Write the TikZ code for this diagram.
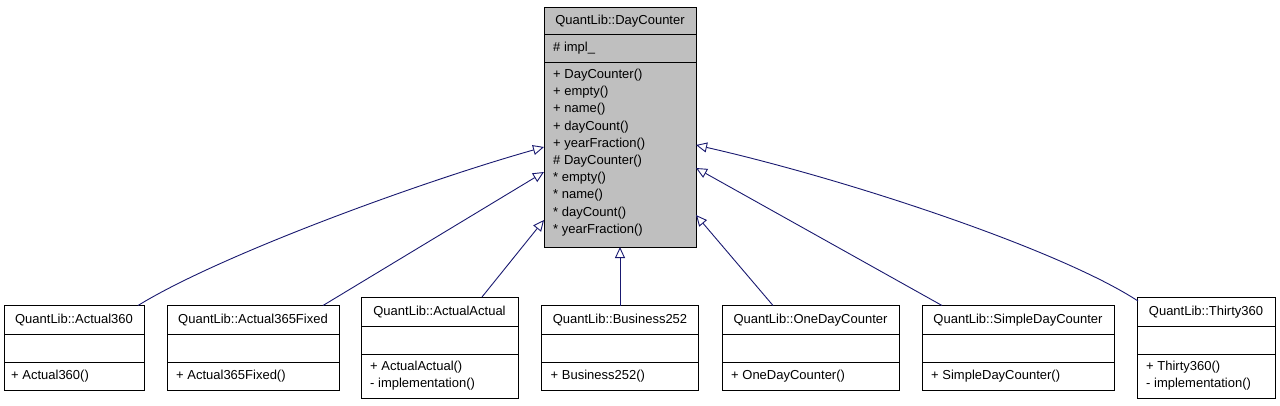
\documentclass[tikz,border=0pt]{standalone}
\usepackage{fontspec}
\setmainfont{Liberation Sans}
\usetikzlibrary{arrows.meta}
\definecolor{navy}{HTML}{191970}
\definecolor{boxgray}{HTML}{BFBFBF}
\tikzset{
  cls/.style={draw=black, line width=1pt, inner sep=0pt, outer sep=0pt, anchor=north west},
  sep/.style={draw=black, line width=1pt},
  ttl/.style={inner sep=0pt, font=\fontsize{13}{15}\selectfont, text height=9.5pt, text depth=2.5pt},
  mth/.style={ttl, anchor=west},
  inh/.style={draw=navy, line width=0.9pt, -{Triangle[length=11pt,width=10pt,fill=white]}}
}
\begin{document}
\begin{tikzpicture}[x=1pt,y=-1pt]
\useasboundingbox (0,0) rectangle (1280,405);
% main class
\node[cls, fill=boxgray, minimum width=152pt, minimum height=240pt] (main) at (544,7) {};
\draw[sep] (main.west |- 0,34) -- (main.east |- 0,34);
\draw[sep] (main.west |- 0,62) -- (main.east |- 0,62);
\node[ttl] (mainT) at (620,20.5) {QuantLib::DayCounter};
\node[mth] (mainA) at (553,48) {\# impl\_};
\node[mth] (m1) at (553,75) {+ DayCounter()};
\node[mth] (m2) at (553,92.2) {+ empty()};
\node[mth] (m3) at (553,109.4) {+ name()};
\node[mth] (m4) at (553,126.6) {+ dayCount()};
\node[mth] (m5) at (553,143.8) {+ yearFraction()};
\node[mth] (m6) at (553,161) {\# DayCounter()};
\node[mth] (m7) at (553,178.2) {* empty()};
\node[mth] (m8) at (553,195.4) {* name()};
\node[mth] (m9) at (553,212.6) {* dayCount()};
\node[mth] (m10) at (553,229.8) {* yearFraction()};

% Actual360
\node[cls, fill=white, minimum width=140pt, minimum height=84.5pt] (a360) at (4,305.5) {};
\draw[sep] (a360.west |- 0,334) -- (a360.east |- 0,334);
\draw[sep] (a360.west |- 0,362) -- (a360.east |- 0,362);
\node[ttl] (a360T) at (74,319.5) {QuantLib::Actual360};
\node[mth] (a360M) at (11,376) {+ Actual360()};

% Actual365Fixed
\node[cls, fill=white, minimum width=172pt, minimum height=84.5pt] (a365) at (167,305.5) {};
\draw[sep] (a365.west |- 0,334) -- (a365.east |- 0,334);
\draw[sep] (a365.west |- 0,362) -- (a365.east |- 0,362);
\node[ttl] (a365T) at (253,319.5) {QuantLib::Actual365Fixed};
\node[mth] (a365M) at (176,376) {+ Actual365Fixed()};

% ActualActual
\node[cls, fill=white, minimum width=157pt, minimum height=101pt] (aa) at (361,297) {};
\draw[sep] (aa.west |- 0,326) -- (aa.east |- 0,326);
\draw[sep] (aa.west |- 0,354) -- (aa.east |- 0,354);
\node[ttl] (aaT) at (439.5,311.5) {QuantLib::ActualActual};
\node[mth] (aaM1) at (370,366.5) {+ ActualActual()};
\node[mth] (aaM2) at (370,384) {- implementation()};

% Business252
\node[cls, fill=white, minimum width=157pt, minimum height=84.5pt] (b252) at (541.5,305.5) {};
\draw[sep] (b252.west |- 0,334) -- (b252.east |- 0,334);
\draw[sep] (b252.west |- 0,362) -- (b252.east |- 0,362);
\node[ttl] (b252T) at (620,319.5) {QuantLib::Business252};
\node[mth] (b252M) at (550.5,376) {+ Business252()};

% OneDayCounter
\node[cls, fill=white, minimum width=177pt, minimum height=84.5pt] (odc) at (722,305.5) {};
\draw[sep] (odc.west |- 0,334) -- (odc.east |- 0,334);
\draw[sep] (odc.west |- 0,362) -- (odc.east |- 0,362);
\node[ttl] (odcT) at (810.5,319.5) {QuantLib::OneDayCounter};
\node[mth] (odcM) at (731,376) {+ OneDayCounter()};

% SimpleDayCounter
\node[cls, fill=white, minimum width=192pt, minimum height=84.5pt] (sdc) at (922,305.5) {};
\draw[sep] (sdc.west |- 0,334) -- (sdc.east |- 0,334);
\draw[sep] (sdc.west |- 0,362) -- (sdc.east |- 0,362);
\node[ttl] (sdcT) at (1018,319.5) {QuantLib::SimpleDayCounter};
\node[mth] (sdcM) at (931,376) {+ SimpleDayCounter()};

% Thirty360
\node[cls, fill=white, minimum width=138pt, minimum height=101pt] (t360) at (1137,297) {};
\draw[sep] (t360.west |- 0,326) -- (t360.east |- 0,326);
\draw[sep] (t360.west |- 0,354) -- (t360.east |- 0,354);
\node[ttl] (t360T) at (1206,311.5) {QuantLib::Thirty360};
\node[mth] (t360M1) at (1146,366.5) {+ Thirty360()};
\node[mth] (t360M2) at (1146,384) {- implementation()};

% inheritance connectors
\draw[inh] ([xshift=64pt]a360.north) .. controls (220,255) and (420,182) .. ([yshift=-140pt]main.north west);
\draw[inh] ([xshift=70pt]a365.north) -- ([yshift=-165pt]main.north west);
\draw[inh] ([xshift=42.5pt]aa.north) -- ([yshift=-213pt]main.north west);
\draw[inh] (b252.north) -- (main.south);
\draw[inh] ([xshift=-37.5pt]odc.north) -- ([yshift=-208pt]main.north east);
\draw[inh] ([xshift=-76pt]sdc.north) -- ([yshift=-161pt]main.north east);
\draw[inh] ([xshift=1pt,yshift=-4pt]t360.north west) .. controls (1060,250) and (850,180) .. ([yshift=-138pt]main.north east);
\end{tikzpicture}
\end{document}
